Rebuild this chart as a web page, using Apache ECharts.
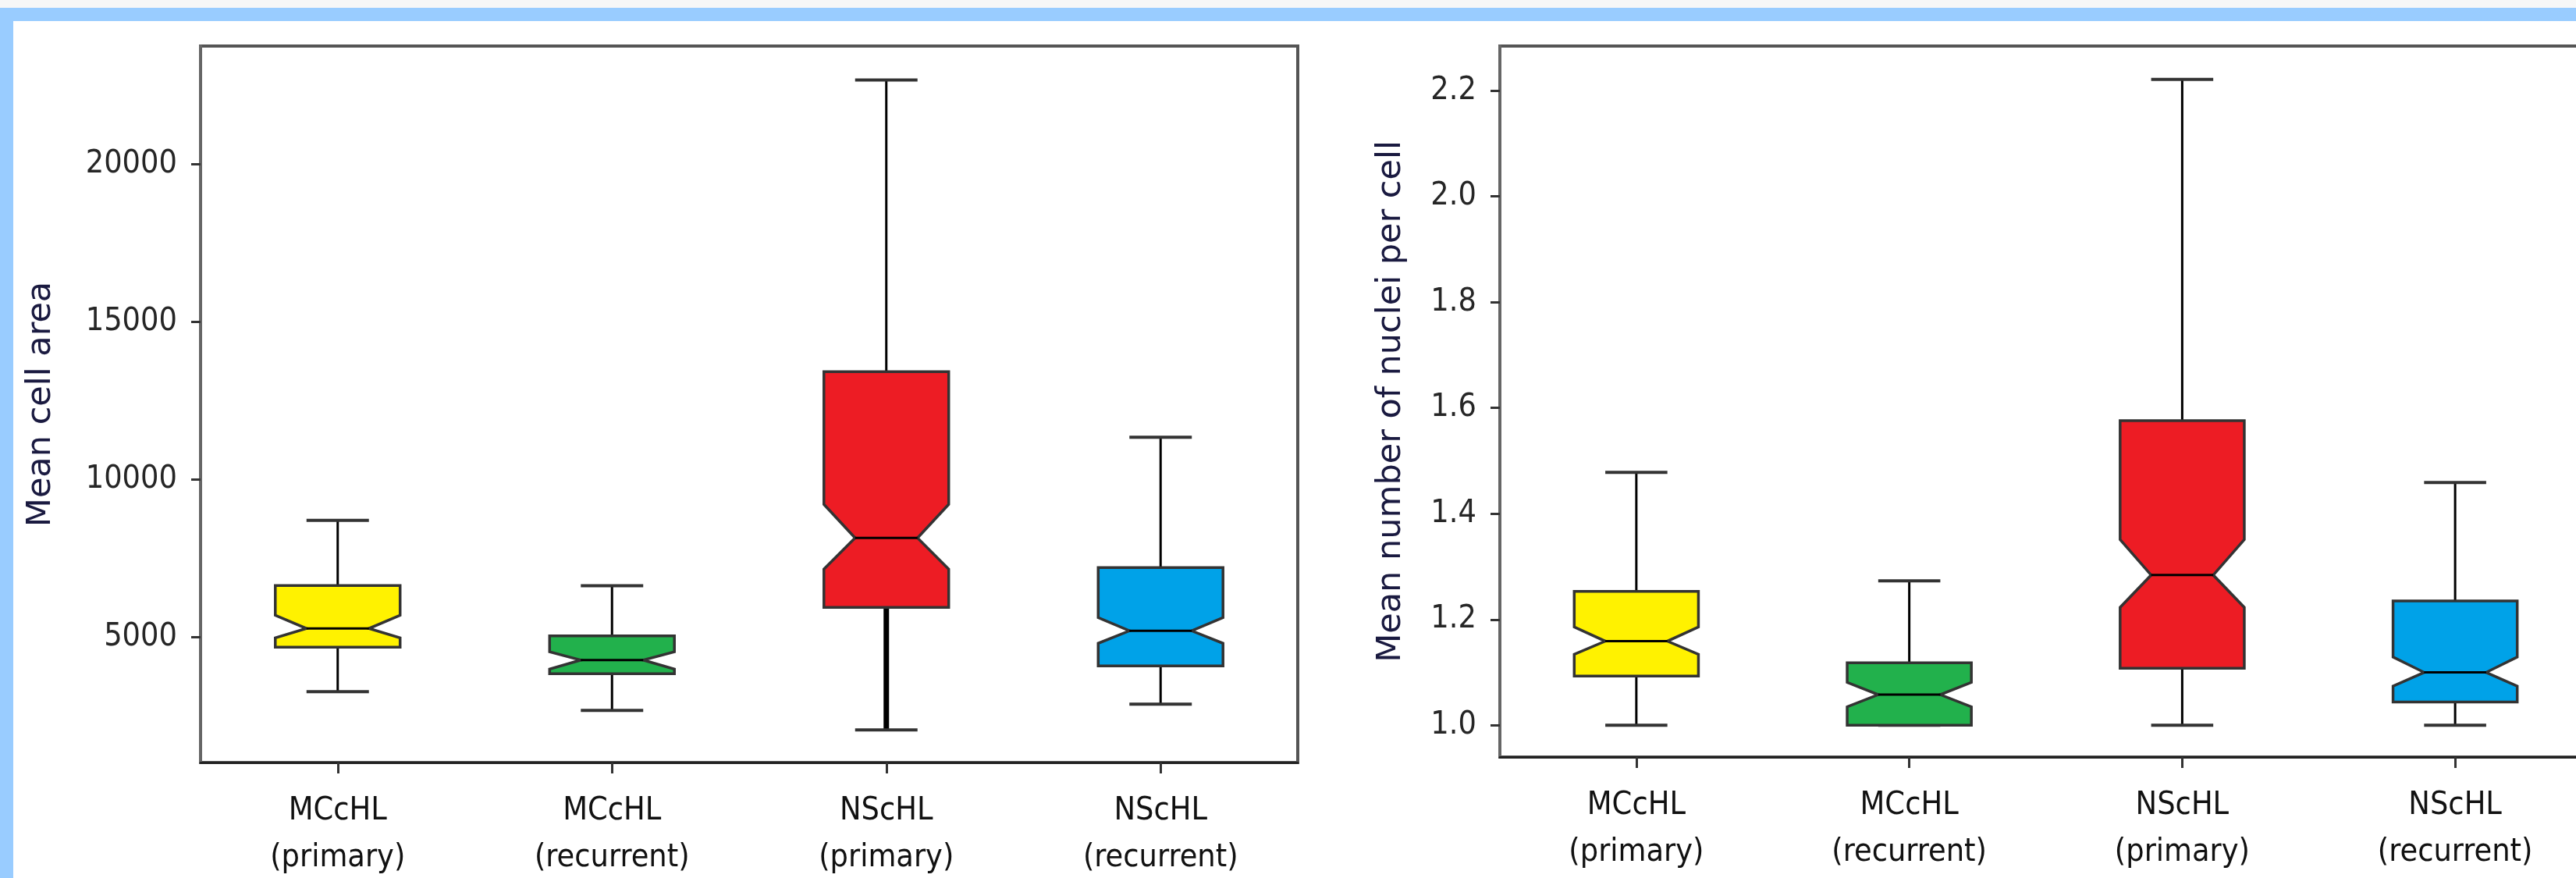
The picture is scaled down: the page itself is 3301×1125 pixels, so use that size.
<!DOCTYPE html>
<html>
<head>
<meta charset="utf-8">
<script src="https://cdn.jsdelivr.net/npm/echarts@6/dist/echarts.min.js"></script>
<style>
  html, body { margin: 0; padding: 0; background: #ffffff; }
  #chart { width: 3301px; height: 1125px; }
</style>
</head>
<body>
<div id="chart"></div>
<script>
// ---------- data ----------
const categories = ['MCcHL\n(primary)', 'MCcHL\n(recurrent)', 'NScHL\n(primary)', 'NScHL\n(recurrent)'];

// Left panel: Mean cell area
const areaMin      = [3267, 2674, 2055, 2871];
const areaQ1       = [4678, 3837, 5941, 4084];
const areaNotchLo  = [4975, 3985, 7153, 4802];
const areaMedian   = [5272, 4270, 8143, 5198];
const areaNotchHi  = [5693, 4530, 9208, 5619];
const areaQ3       = [6634, 5040, 13420, 7203];
const areaMax      = [8700, 6630, 22672, 11336];
const areaTicks    = [5000, 10000, 15000, 20000];

// Right panel: Mean number of nuclei per cell
const nucMin       = [1.0, 1.0, 1.0, 1.0];
const nucQ1        = [1.093, 1.0, 1.108, 1.044];
const nucNotchLo   = [1.134, 1.035, 1.223, 1.074];
const nucMedian    = [1.159, 1.058, 1.284, 1.100];
const nucNotchHi   = [1.186, 1.081, 1.351, 1.129];
const nucQ3        = [1.253, 1.118, 1.576, 1.235];
const nucMax       = [1.478, 1.273, 2.221, 1.459];
const nucTicks     = [1.0, 1.2, 1.4, 1.6, 1.8, 2.0, 2.2];

// ---------- styles ----------
const boxColors = ['#FFF200', '#22B14C', '#ED1C24', '#00A2E8'];
const tickFont = 'DejaVu Sans Condensed, Liberation Sans Narrow, DejaVu Sans, sans-serif';
const titleFont = 'DejaVu Sans, sans-serif';

function rows(mn, q1, nlo, med, nhi, q3, mx) {
  return categories.map((c, i) => [i, mn[i], q1[i], nlo[i], med[i], nhi[i], q3[i], mx[i]]);
}

function makeRender(thickLowIdx) {
  return function (params, api) {
    const i = api.value(0);
    const y = k => api.coord([i, api.value(k)])[1];
    const cx = api.coord([i, api.value(4)])[0];
    const band = api.size([1, 0])[0];
    const hw = band * 0.455 / 2;
    const nw = hw * 0.5;
    const yMin = y(1), yQ1 = y(2), yNlo = y(3), yMed = y(4), yNhi = y(5), yQ3 = y(6), yMax = y(7);
    const L = cx - hw, R = cx + hw;
    const pts = [
      [L, yQ3], [R, yQ3], [R, yNhi], [cx + nw, yMed], [R, yNlo], [R, yQ1],
      [L, yQ1], [L, yNlo], [cx - nw, yMed], [L, yNhi]
    ];
    const lowW = (thickLowIdx === i) ? 7 : 3;
    return {
      type: 'group',
      children: [
        { type: 'line', shape: { x1: cx, y1: yQ3, x2: cx, y2: yMax }, style: { stroke: '#000', lineWidth: 3 } },
        { type: 'line', shape: { x1: cx, y1: yQ1, x2: cx, y2: yMin }, style: { stroke: '#000', lineWidth: lowW } },
        { type: 'line', shape: { x1: cx - nw, y1: yMax, x2: cx + nw, y2: yMax }, style: { stroke: '#333', lineWidth: 4 } },
        { type: 'line', shape: { x1: cx - nw, y1: yMin, x2: cx + nw, y2: yMin }, style: { stroke: '#333', lineWidth: 4 } },
        { type: 'polygon', shape: { points: pts }, style: { fill: boxColors[i], stroke: '#333', lineWidth: 3.5, lineJoin: 'miter' } },
        { type: 'line', shape: { x1: cx - nw, y1: yMed, x2: cx + nw, y2: yMed }, style: { stroke: '#000', lineWidth: 3 } }
      ]
    };
  };
}

function xAxisCfg(gridIndex, margin) {
  return {
    type: 'category', gridIndex, data: categories, boundaryGap: true,
    axisLine: { show: true, lineStyle: { color: '#222', width: 3 } },
    axisTick: { show: true, alignWithLabel: true, length: 14, lineStyle: { color: '#333', width: 3 } },
    axisLabel: { interval: 0, margin, fontFamily: tickFont, fontSize: 41, lineHeight: 60, color: '#111' },
    splitLine: { show: false }
  };
}

function yAxisCfg(gridIndex, min, max, ticks, fmt, name, nameGap) {
  return {
    type: 'value', gridIndex, min, max,
    name, nameLocation: 'middle', nameRotate: 90, nameGap,
    nameTextStyle: { fontFamily: titleFont, fontSize: 43, color: '#1a1a40' },
    axisLine: { show: true, lineStyle: { color: '#666', width: 4 } },
    axisTick: { show: true, customValues: ticks, length: 12, lineStyle: { color: '#333', width: 3 } },
    axisLabel: { customValues: ticks, formatter: fmt, margin: 30, fontFamily: tickFont, fontSize: 41, color: '#262626' },
    splitLine: { show: false }
  };
}

const chart = echarts.init(document.getElementById('chart'), null, { renderer: 'canvas' });
chart.setOption({
  backgroundColor: '#ffffff',
  animation: false,
  graphic: [
    { type: 'rect', shape: { x: 0, y: 0, width: 3301, height: 10 }, style: { fill: '#f7f7f7' }, z: -10 },
    { type: 'rect', shape: { x: 0, y: 10, width: 3301, height: 17 }, style: { fill: '#99CCFF' }, z: -10 },
    { type: 'rect', shape: { x: 0, y: 10, width: 17, height: 1115 }, style: { fill: '#99CCFF' }, z: -10 }
  ],
  grid: [
    { left: 257, top: 59, width: 1406, height: 918, show: true, borderColor: '#555', borderWidth: 4, backgroundColor: 'transparent', containLabel: false, outerBoundsMode: 'none' },
    { left: 1922, top: 59, width: 1399, height: 911, show: true, borderColor: '#555', borderWidth: 4, backgroundColor: 'transparent', containLabel: false, outerBoundsMode: 'none' }
  ],
  xAxis: [xAxisCfg(0, 32), xAxisCfg(1, 32)],
  yAxis: [
    yAxisCfg(0, 1020, 23750, areaTicks, v => String(v), 'Mean cell area', 183),
    yAxisCfg(1, 0.94, 2.284, nucTicks, v => Number(v).toFixed(1), 'Mean number of nuclei per cell', 118)
  ],
  series: [
    {
      type: 'custom', xAxisIndex: 0, yAxisIndex: 0,
      renderItem: makeRender(2),
      encode: { x: 0, y: [1, 2, 3, 4, 5, 6, 7] },
      data: rows(areaMin, areaQ1, areaNotchLo, areaMedian, areaNotchHi, areaQ3, areaMax)
    },
    {
      type: 'custom', xAxisIndex: 1, yAxisIndex: 1,
      renderItem: makeRender(-1),
      encode: { x: 0, y: [1, 2, 3, 4, 5, 6, 7] },
      data: rows(nucMin, nucQ1, nucNotchLo, nucMedian, nucNotchHi, nucQ3, nucMax)
    }
  ]
});
</script>
</body>
</html>
